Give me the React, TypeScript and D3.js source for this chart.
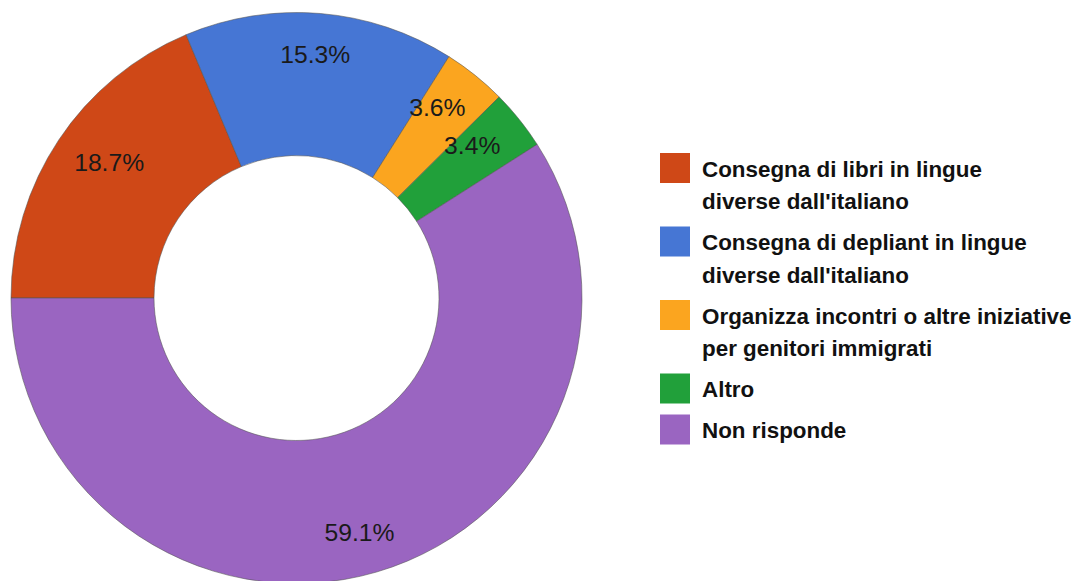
import React from "react";
import * as d3 from "d3";

const categories = [
  "Consegna di libri in lingue diverse dall'italiano",
  "Consegna di depliant in lingue diverse dall'italiano",
  "Organizza incontri o altre iniziative per genitori immigrati",
  "Altro",
  "Non risponde",
];
const legendLines = [
  ["Consegna di libri in lingue", "diverse dall'italiano"],
  ["Consegna di depliant in lingue", "diverse dall'italiano"],
  ["Organizza incontri o altre iniziative", "per genitori immigrati"],
  ["Altro"],
  ["Non risponde"],
];
const values = [18.7, 15.3, 3.6, 3.4, 59.1];
const colors = ["#CF4817", "#4676D4", "#FBA51F", "#21A03A", "#9A65C1"];

const W = 1076;
const H = 581;
const cx = 296.5;
const cy = 298;
const outerR = 285.5;
const innerR = 142.5;

export default function App() {
  const pie = d3
    .pie<number>()
    .sort(null)
    .startAngle(-Math.PI / 2)
    .endAngle((3 * Math.PI) / 2);
  const arcs = pie(values);
  const arcGen = d3.arc<d3.PieArcDatum<number>>().innerRadius(innerR).outerRadius(outerR);

  const labelRx = 225;
  const labelRy = 244;

  const lineH = 32.5;
  const gap = 8.5;
  let yCursor = 153;
  const legendItems = legendLines.map((lines, i) => {
    const top = yCursor;
    yCursor += lines.length * lineH + gap;
    return { lines, top, i };
  });

  return (
    <svg
      width={W}
      height={H}
      style={{ position: "absolute", left: 0, top: 0, background: "#fff" }}
      fontFamily="'Liberation Sans', Arial, sans-serif"
    >
      <rect width={W} height={H} fill="#fff" />
      <g transform={`translate(${cx},${cy})`}>
        {arcs.map((a, i) => (
          <path
            key={i}
            d={arcGen(a) || ""}
            fill={colors[i]}
            stroke="#555"
            strokeWidth={0.7}
            strokeOpacity={0.8}
          />
        ))}
        {arcs.map((a, i) => {
          const mid = (a.startAngle + a.endAngle) / 2;
          const x = Math.sin(mid) * labelRx;
          const y = -Math.cos(mid) * labelRy;
          return (
            <text
              key={i}
              x={x}
              y={y}
              textAnchor="middle"
              dominantBaseline="central"
              fontSize={24.7}
              fill="#1a1a1a"
            >
              {values[i].toFixed(1)}%
            </text>
          );
        })}
      </g>
      <g>
        {legendItems.map(({ lines, top, i }) => (
          <g key={i}>
            <rect x={660} y={top} width={30} height={30} fill={colors[i]} />
            {lines.map((ln, j) => (
              <text
                key={j}
                x={702}
                y={top + 23.5 + j * lineH}
                fontSize={22.4}
                fontWeight="bold"
                fill="#111"
              >
                {ln}
              </text>
            ))}
          </g>
        ))}
      </g>
    </svg>
  );
}
